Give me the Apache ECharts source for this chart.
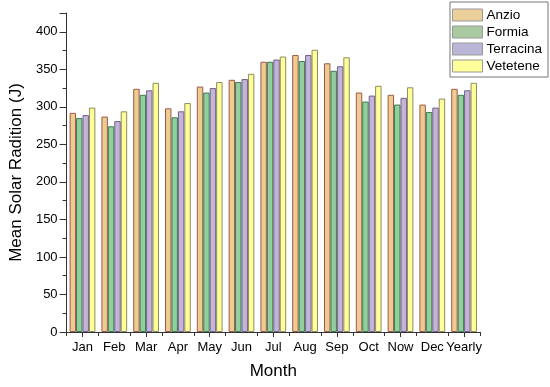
<!DOCTYPE html>
<html><head><meta charset="utf-8">
<script src="https://cdn.jsdelivr.net/npm/echarts@6/dist/echarts.min.js"></script>
<style>html,body{margin:0;padding:0;background:#fff}#c{width:550px;height:387px}</style>
</head><body><div id="c"></div>
<script>
const categories = ['Jan','Feb','Mar','Apr','May','Jun','Jul','Aug','Sep','Oct','Now','Dec','Yearly'];
const seriesNames = ['Anzio','Formia','Terracina','Vetetene'];
const anzio     = [292, 287, 324, 298, 327, 336, 360, 369, 358, 319, 316, 303, 324];
const formia    = [285, 274, 316, 286, 319, 333, 360, 361, 348, 307, 303, 293, 316];
const terracina = [289, 281, 322, 294, 325, 337, 363, 369, 354, 315, 312, 299, 322];
const vetetene  = [299, 294, 332, 305, 333, 344, 367, 376, 366, 328, 326, 311, 332];
const yTicks = [0, 50, 100, 150, 200, 250, 300, 350, 400];

const fills = ['#EFCB92', '#91D09C', '#C6B3DA', '#FFFF99'];
const borders = ['#9b5a4b', '#3e7a50', '#6e6488', '#8f8a60'];
const legendFills = ['#EBCF9B', '#A9C9A0', '#B9B6D8', '#FFFF99'];
const values = [anzio, formia, terracina, vetetene];

const font = 'Liberation Sans, Arial, sans-serif';
const chart = echarts.init(document.getElementById('c'), null, {renderer: 'canvas'});
chart.setOption({
  animation: false,
  backgroundColor: '#fff',
  textStyle: {fontFamily: font, color: '#000'},
  grid: {left: 61, right: 70, top: 13, bottom: 55},
  legend: {
    orient: 'vertical', left: 450, top: 2,
    padding: [6, 6, 4, 2],
    itemWidth: 30, itemHeight: 12, itemGap: 3,
    icon: 'rect',
    borderColor: '#777', borderWidth: 1,
    textStyle: {fontSize: 13.5, color: '#000', fontFamily: font, padding: [0, 0, 0, -1]},
    data: seriesNames.map((n, i) => ({name: n, itemStyle: {color: legendFills[i], borderColor: '#999', borderWidth: 1}}))
  },
  xAxis: [{
    type: 'category', data: categories,
    name: 'Month', nameLocation: 'middle', nameGap: 31,
    nameTextStyle: {fontSize: 17, color: '#000', fontFamily: font},
    axisLine: {lineStyle: {color: '#333', width: 1}},
    axisTick: {show: true, length: 4, lineStyle: {color: '#333'}},
    axisLabel: {fontSize: 13, color: '#000', margin: 9, interval: 0, fontFamily: font}
  }, {
    type: 'category', data: categories, position: 'bottom',
    axisLine: {show: false},
    axisTick: {show: true, alignWithLabel: true, length: 5, lineStyle: {color: '#333'}},
    axisLabel: {show: false}
  }],
  yAxis: [{
    type: 'value', min: 0, max: 425, interval: 25,
    name: 'Mean Solar Radition (J)', nameLocation: 'middle', nameGap: 38,
    nameTextStyle: {fontSize: 17, color: '#000', fontFamily: font},
    axisLine: {show: true, lineStyle: {color: '#333', width: 1}},
    axisTick: {show: true, length: 4, lineStyle: {color: '#333'}},
    splitLine: {show: false},
    axisLabel: {fontSize: 13, color: '#000', margin: 9, fontFamily: font,
      formatter: v => yTicks.includes(v) ? String(v) : ''}
  }, {
    type: 'value', min: 0, max: 425, interval: 50, position: 'left',
    axisLine: {show: false},
    axisTick: {show: true, length: 7, lineStyle: {color: '#333'}},
    splitLine: {show: false},
    axisLabel: {show: false}
  }],
  series: seriesNames.map((n, i) => ({
    name: n, type: 'bar', xAxisIndex: 0, yAxisIndex: 0,
    data: values[i],
    barGap: '0%', barCategoryGap: '19%',
    itemStyle: {color: fills[i], borderColor: borders[i], borderWidth: 1}
  }))
});
</script></body></html>
